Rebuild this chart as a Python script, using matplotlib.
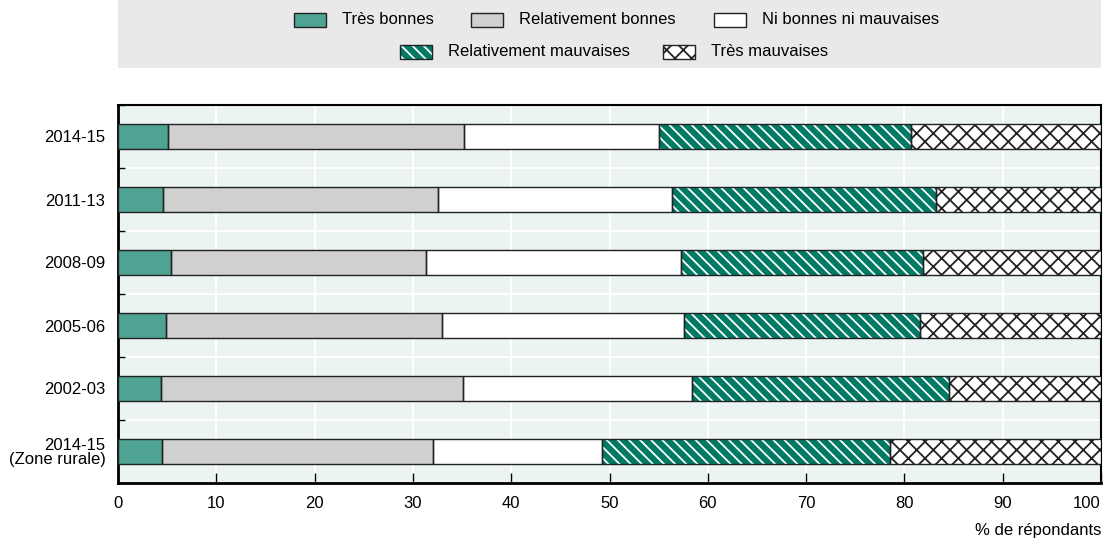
import matplotlib.pyplot as plt
from matplotlib.patches import Rectangle
from matplotlib.ticker import MultipleLocator
import numpy as np

plt.rcParams['font.family'] = ['Liberation Sans', 'DejaVu Sans']
plt.rcParams['hatch.linewidth'] = 1.3

# données (top -> bottom)
categories = ["2014-15", "2011-13", "2008-09", "2005-06", "2002-03", "2014-15\n(Zone rurale)"]
tres_bonnes = [5.1, 4.6, 5.4, 4.9, 4.4, 4.5]
rel_bonnes = [30.1, 28.0, 25.9, 28.1, 30.7, 27.5]
ni_ni = [19.8, 23.8, 26.0, 24.6, 23.3, 17.2]
rel_mauvaises = [25.7, 26.8, 24.6, 24.0, 26.1, 29.3]
tres_mauvaises = [19.3, 16.8, 18.1, 18.4, 15.5, 21.5]
x_ticks = [0, 10, 20, 30, 40, 50, 60, 70, 80, 90, 100]

labels = ["Très bonnes", "Relativement bonnes", "Ni bonnes ni mauvaises",
          "Relativement mauvaises", "Très mauvaises"]

teal = "#4ea392"
dark_teal = "#007a64"
grey = "#d0d0d0"
bg = "#ebf4f3"
edge = "#222222"

# style de chaque série: (face, bord, hachure)
styles = [(teal, edge, None), (grey, edge, None), ("white", edge, None),
          (dark_teal, "white", "\\\\\\"), ("white", edge, "xx")]

fig = plt.figure(figsize=(11.11, 5.42), dpi=100)
W, H = 1111, 542
ax = fig.add_axes([118 / W, 1 - 483 / H, (1101 - 118) / W, (483 - 105) / H])
ax.set_facecolor(bg)

y = np.arange(len(categories))
h = 0.4
series = [tres_bonnes, rel_bonnes, ni_ni, rel_mauvaises, tres_mauvaises]
left = np.zeros(len(categories))
for vals, (fc, ec, hatch) in zip(series, styles):
    vals = np.array(vals)
    ax.barh(y, vals, h, left=left, color=fc, edgecolor=ec, hatch=hatch, lw=0, zorder=3)
    ax.barh(y, vals, h, left=left, fill=False, edgecolor=edge, lw=1, zorder=4)
    left += vals

ax.set_xlim(0, 100)
ax.set_ylim(len(categories) - 0.5, -0.5)
ax.set_yticks(y)
ax.set_yticklabels(categories, fontsize=12, linespacing=0.95)
ax.yaxis.set_minor_locator(MultipleLocator(1, offset=0.5))
ax.set_xticks(x_ticks)
xlabs = ax.set_xticklabels([str(v) for v in x_ticks])
xlabs[-1].set_horizontalalignment("right")
ax.tick_params(axis="y", which="major", length=0, pad=9)
ax.tick_params(axis="y", which="minor", length=5, direction="in", width=1)
ax.tick_params(axis="x", which="major", length=7, direction="in", width=1, labelsize=12, pad=9)
ax.grid(True, axis="x", which="major", color="white", lw=1.5, zorder=0)
ax.grid(True, axis="y", which="minor", color="white", lw=1.5, zorder=0)
ax.set_axisbelow(True)
for s in ax.spines.values():
    s.set_color("black")
    s.set_linewidth(1.5)
ax.spines["left"].set_linewidth(2)
ax.spines["bottom"].set_linewidth(2)

fig.text(1101 / W, 1 - 530 / H, "% de répondants", ha="right", va="center", fontsize=12)

# légende (dessinée à la main)
fig.patches.append(Rectangle((118 / W, 1 - 68 / H), (1101 - 118) / W, 68 / H,
                             transform=fig.transFigure, facecolor="#e9e9e9", edgecolor="none", zorder=0))
leg_pos = [(294, 20), (471, 20), (714, 20), (400, 52), (663, 52)]
for (px, py), lab, (fc, ec, hatch) in zip(leg_pos, labels, styles):
    fig.patches.append(Rectangle((px / W, 1 - (py + 7) / H), 32 / W, 14 / H, transform=fig.transFigure,
                                 facecolor=fc, edgecolor=ec, hatch=hatch, lw=0, zorder=1))
    fig.patches.append(Rectangle((px / W, 1 - (py + 7) / H), 32 / W, 14 / H, transform=fig.transFigure,
                                 fill=False, edgecolor=edge, lw=1, zorder=2))
    fig.text((px + 48) / W, 1 - py / H, lab, ha="left", va="center", fontsize=12)

fig.savefig("out.png", dpi=100)
